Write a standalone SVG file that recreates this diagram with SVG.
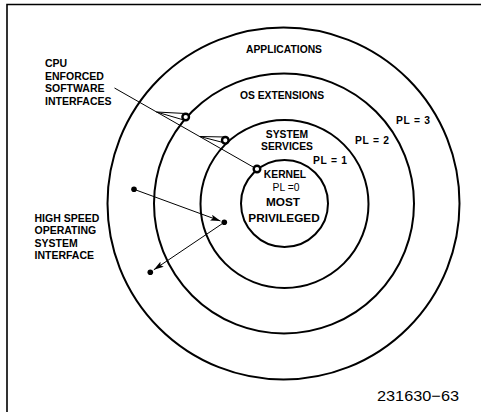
<svg xmlns="http://www.w3.org/2000/svg" width="481" height="412" viewBox="0 0 481 412">
<style>
.ring{fill:none;stroke:#000;stroke-width:2}
.ln{fill:none;stroke:#000;stroke-width:1}
.mk{fill:#fff;stroke:#000;stroke-width:2.4}
.dot{fill:#000}
.t{font-family:"Liberation Sans",Arial,sans-serif;font-weight:bold;font-size:10.3px;fill:#000}
.tc{text-anchor:middle}
.big{font-size:11.8px}
.lb{font-size:10.5px}
.fn{font-family:"Liberation Sans",Arial,sans-serif;font-size:15px;fill:#000}
</style>
<defs>
<marker id="ah" viewBox="0 0 10 6" refX="10" refY="3" markerWidth="10" markerHeight="6" markerUnits="userSpaceOnUse" orient="auto">
<path d="M0,0 L10,3 L0,6 L2,3 Z" fill="#000"/>
</marker>
</defs>
<rect width="481" height="412" fill="#fff"/>
<path d="M7,412 V4.5 H481" fill="none" stroke="#000" stroke-width="1.6"/>
<g id="ring-applications">
<circle class="ring" cx="283.5" cy="203.5" r="176"/>
<text class="t tc" x="284" y="52.5">APPLICATIONS</text>
<text class="t" x="396" y="124" textLength="34" lengthAdjust="spacing">PL = 3</text>
</g>
<g id="ring-os-extensions">
<circle class="ring" cx="284" cy="203.5" r="130"/>
<text class="t tc" x="282" y="98.5">OS EXTENSIONS</text>
<text class="t" x="355" y="143.5" textLength="34" lengthAdjust="spacing">PL = 2</text>
</g>
<g id="ring-system-services">
<circle class="ring" cx="284.5" cy="204" r="84"/>
<text class="t tc" x="287" y="137.5">SYSTEM</text>
<text class="t tc" x="287" y="150">SERVICES</text>
<text class="t" x="313" y="163.5" textLength="34" lengthAdjust="spacing">PL = 1</text>
</g>
<g id="kernel">
<circle class="ring" cx="284.5" cy="203.5" r="43.5"/>
<text class="t tc" x="285" y="178">KERNEL</text>
<text class="t tc" x="286" y="190.5" style="font-weight:normal">PL =0</text>
<text class="t tc big" x="283" y="205.5">MOST</text>
<text class="t tc big" x="284" y="221.5">PRIVILEGED</text>
</g>
<g id="label-cpu">
<text class="t lb" x="45" y="66.5">CPU</text>
<text class="t lb" x="45" y="79.5">ENFORCED</text>
<text class="t lb" x="45" y="92">SOFTWARE</text>
<text class="t lb" x="45" y="104.5">INTERFACES</text>
</g>
<g id="label-high-speed">
<text class="t lb" x="34.5" y="221.5">HIGH SPEED</text>
<text class="t lb" x="34.5" y="234">OPERATING</text>
<text class="t lb" x="34.5" y="246.5">SYSTEM</text>
<text class="t lb" x="34.5" y="259">INTERFACE</text>
</g>
<g id="connectors">
<line class="ln" x1="114.5" y1="88" x2="254" y2="167.5"/>
<polyline class="ln" points="185.5,113.5 156.5,112 185.5,120.5"/>
<polyline class="ln" points="225,137 200,136.5 225,143"/>
<circle class="mk" cx="185.7" cy="117" r="3.3"/>
<circle class="mk" cx="225.3" cy="140.3" r="3.3"/>
<circle class="mk" cx="257" cy="169" r="3.3"/>
<circle class="dot" cx="134" cy="189.3" r="2.8"/>
<circle class="dot" cx="224.3" cy="222.3" r="2.8"/>
<circle class="dot" cx="150.3" cy="272.3" r="2.8"/>
<line class="ln" x1="134" y1="189.3" x2="220.5" y2="221" marker-end="url(#ah)"/>
<line class="ln" x1="224.3" y1="222.3" x2="153.8" y2="269.8" marker-end="url(#ah)"/>
</g>
<text class="fn" x="377" y="401" textLength="82" lengthAdjust="spacingAndGlyphs">231630−63</text>
</svg>
